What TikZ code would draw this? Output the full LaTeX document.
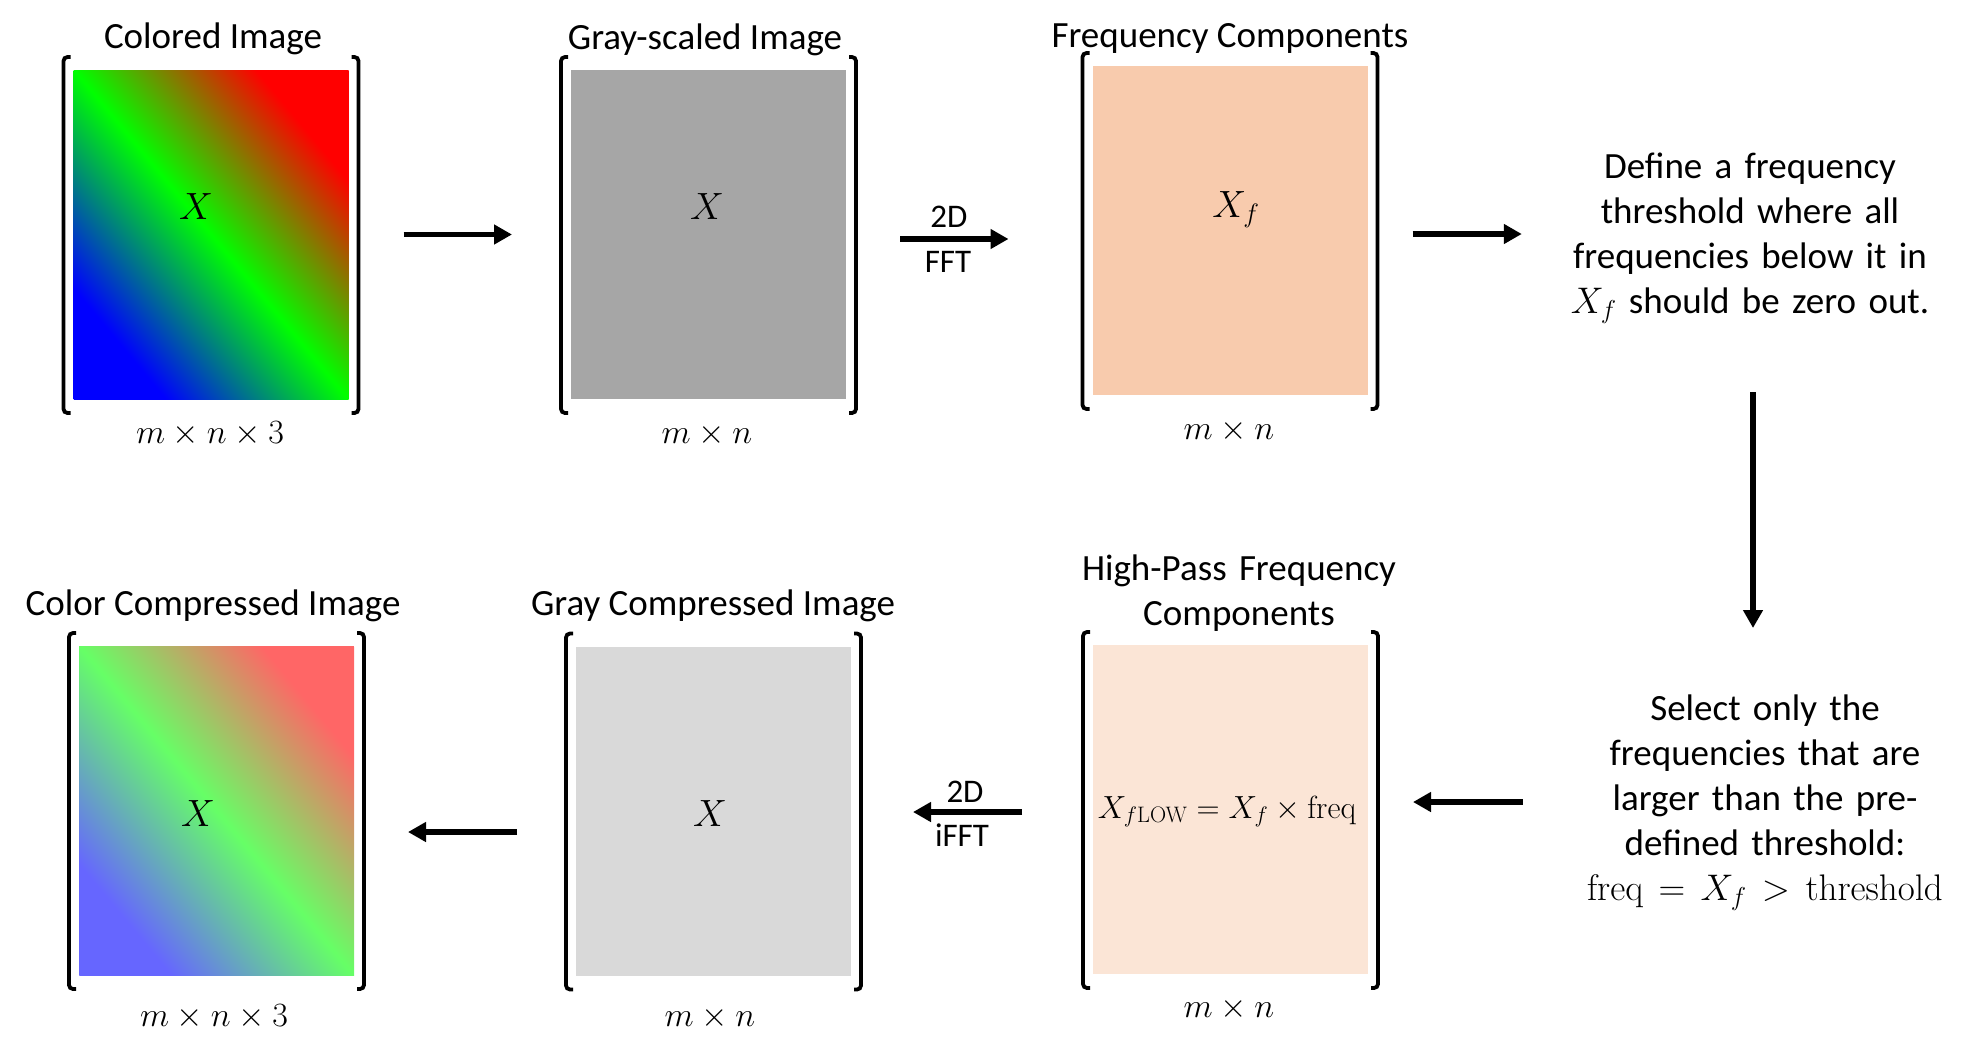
\RequirePackage{fix-cm}
\documentclass[tikz,border=0pt]{standalone}
\usepackage[no-math]{fontspec}
\setmainfont{Carlito}
\usetikzlibrary{arrows.meta,calc}
\definecolor{grayA}{HTML}{A6A6A6}
\definecolor{grayB}{HTML}{D9D9D9}
\definecolor{peachA}{HTML}{F8CBAD}
\definecolor{peachB}{HTML}{FBE5D6}
\definecolor{lred}{RGB}{255,102,102}
\definecolor{lgreen}{RGB}{102,255,102}
\definecolor{lblue}{RGB}{102,102,255}
\pgfdeclarehorizontalshading{bgrfull}{100bp}{color(0bp)=(blue); color(33.4bp)=(blue); color(50bp)=(green); color(66.6bp)=(red); color(100bp)=(red)}
\pgfdeclarehorizontalshading{bgrlight}{100bp}{color(0bp)=(lblue); color(33.4bp)=(lblue); color(50bp)=(lgreen); color(66.6bp)=(lred); color(100bp)=(lred)}
\newcommand\txtbig{\fontsize{37}{45}\selectfont}
\newcommand\txtarr{\fontsize{33}{40}\selectfont}
\newcommand\mathbig{\fontsize{38}{46}\selectfont}
\newcommand\mathlbl{\fontsize{34}{40}\selectfont}
\newcommand\mathform{\fontsize{32}{40}\selectfont}
\newcommand\imgbrackets[1]{%
  \draw[brk] ([shift={(-3pt,13pt)}]#1.north west) -- ([shift={(-10pt,13pt)}]#1.north west) -- ([shift={(-10pt,-14pt)}]#1.south west) -- ([shift={(-3pt,-14pt)}]#1.south west);
  \draw[brk] ([shift={(3pt,13pt)}]#1.north east) -- ([shift={(10pt,13pt)}]#1.north east) -- ([shift={(10pt,-14pt)}]#1.south east) -- ([shift={(3pt,-14pt)}]#1.south east);
}
\tikzset{
  imgbox/.style={minimum width=275pt, minimum height=329pt, inner sep=0pt, outer sep=0pt},
  brk/.style={line width=3.8pt, rounded corners=4pt},
  arr/.style={line width=5.5pt, -{Triangle[length=18pt,width=19pt]}},
  ttl/.style={font=\txtbig, anchor=base, inner sep=0pt},
  dimlbl/.style={font=\mathlbl, anchor=base, inner sep=0pt},
  sym/.style={font=\mathbig, anchor=base, inner sep=0pt},
  arrlbl/.style={font=\txtarr, anchor=base, inner sep=0pt},
  note/.style={font=\txtbig, text width=430pt, align=center, anchor=base, inner sep=0pt},
}
\begin{document}
\begin{tikzpicture}[x=1pt,y=-1pt]
\useasboundingbox (0,0) rectangle (1977,1039);

% ---- image boxes ----
\node[imgbox] (b1) at (211,234.5) {};
\node[imgbox, fill=grayA] (b2) at (708.5,234.5) {};
\node[imgbox, fill=peachA] (b3) at (1230,230.5) {};
\node[imgbox] (b4) at (216.5,810.5) {};
\node[imgbox, fill=grayB] (b5) at (713.5,811) {};
\node[imgbox, fill=peachB] (b6) at (1230.5,809.5) {};

\begin{scope}
  \clip (b1.north west) rectangle (b1.south east);
  \shade[shading=bgrfull, transform canvas={shift={(b1.center)}, rotate=39.8}] (-211,-230) rectangle (211,230);
\end{scope}
\begin{scope}
  \clip (b4.north west) rectangle (b4.south east);
  \shade[shading=bgrlight, transform canvas={shift={(b4.center)}, rotate=39.8}] (-211,-230) rectangle (211,230);
\end{scope}

\imgbrackets{b1}
\imgbrackets{b2}
\imgbrackets{b3}
\imgbrackets{b4}
\imgbrackets{b5}
\imgbrackets{b6}

% ---- symbols inside ----
\node[sym] (x1) at (196,219) {$X$};
\node[sym] (x2) at (707,219) {$X$};
\node[sym] (x3) at (1236,217) {$X_f$};
\node[sym] (x4) at (198,826) {$X$};
\node[sym] (x5) at (710,826) {$X$};
\node[sym, font=\mathform] (x6) at (1227,818) {$X_{f\mathrm{LOW}} = X_f \times \mathrm{freq}$};

% ---- titles ----
\node[ttl] (n1) at (213,48) {Colored Image};
\node[ttl] (n2) at (705,49) {Gray-scaled Image};
\node[ttl] (n3) at (1230,47) {Frequency Components};
\node[ttl] (n4) at (213,615) {Color Compressed Image};
\node[ttl] (n5) at (713,615) {Gray Compressed Image};
\node[note, text width=400pt] (n6) at (1239,580) {High-Pass Frequency\\Components};

% ---- dimensions ----
\node[dimlbl] (d1) at (210,443) {$m \times n \times 3$};
\node[dimlbl] (d2) at (707,443) {$m \times n$};
\node[dimlbl] (d3) at (1229,439) {$m \times n$};
\node[dimlbl] (d4) at (214,1026) {$m \times n \times 3$};
\node[dimlbl] (d5) at (710,1026) {$m \times n$};
\node[dimlbl] (d6) at (1229,1017) {$m \times n$};

% ---- right-hand notes ----
\node[note] (t1) at (1750,178) {Define a frequency\\threshold where all\\frequencies below it in\\$X_f$ should be zero out.};
\node[note] (t2) at (1765,720) {Select only the\\frequencies that are\\larger than the pre-\\defined threshold:\\$\mathrm{freq} = X_f > \mathrm{threshold}$};

% ---- arrows ----
\draw[arr] ([xshift=55pt]b1.east) -- ([xshift=-59pt]b2.west);
\draw[arr] ([shift={(54pt,-4.5pt)}]b2.east) -- ([shift={(-84pt,-8.5pt)}]b3.west);
\node[arrlbl] (f1) at (949,227) {2D};
\node[arrlbl] (f2) at (948,272) {FFT};
\coordinate (a3s) at ([shift={(45pt,-3.5pt)}]b3.east);
\draw[arr] (a3s) -- ($(t1.west |- a3s)+(-13pt,0)$);
\coordinate (v1) at (1753,392);
\coordinate (v2) at (1753,628);
\draw[arr] (v1) -- (v2);
\coordinate (a5e) at ([shift={(45pt,7.5pt)}]b6.east);
\draw[arr] ($(t2.west |- a5e)+(-27pt,0)$) -- (a5e);
\draw[arr] ([shift={(-71pt,-2.5pt)}]b6.west) -- ([shift={(62pt,-1pt)}]b5.east);
\node[arrlbl] (g1) at (965,802) {2D};
\node[arrlbl] (g2) at (962,846) {iFFT};
\draw[arr] ([shift={(-59pt,-21pt)}]b5.west) -- ([shift={(54pt,-21.5pt)}]b4.east);
\end{tikzpicture}
\end{document}
